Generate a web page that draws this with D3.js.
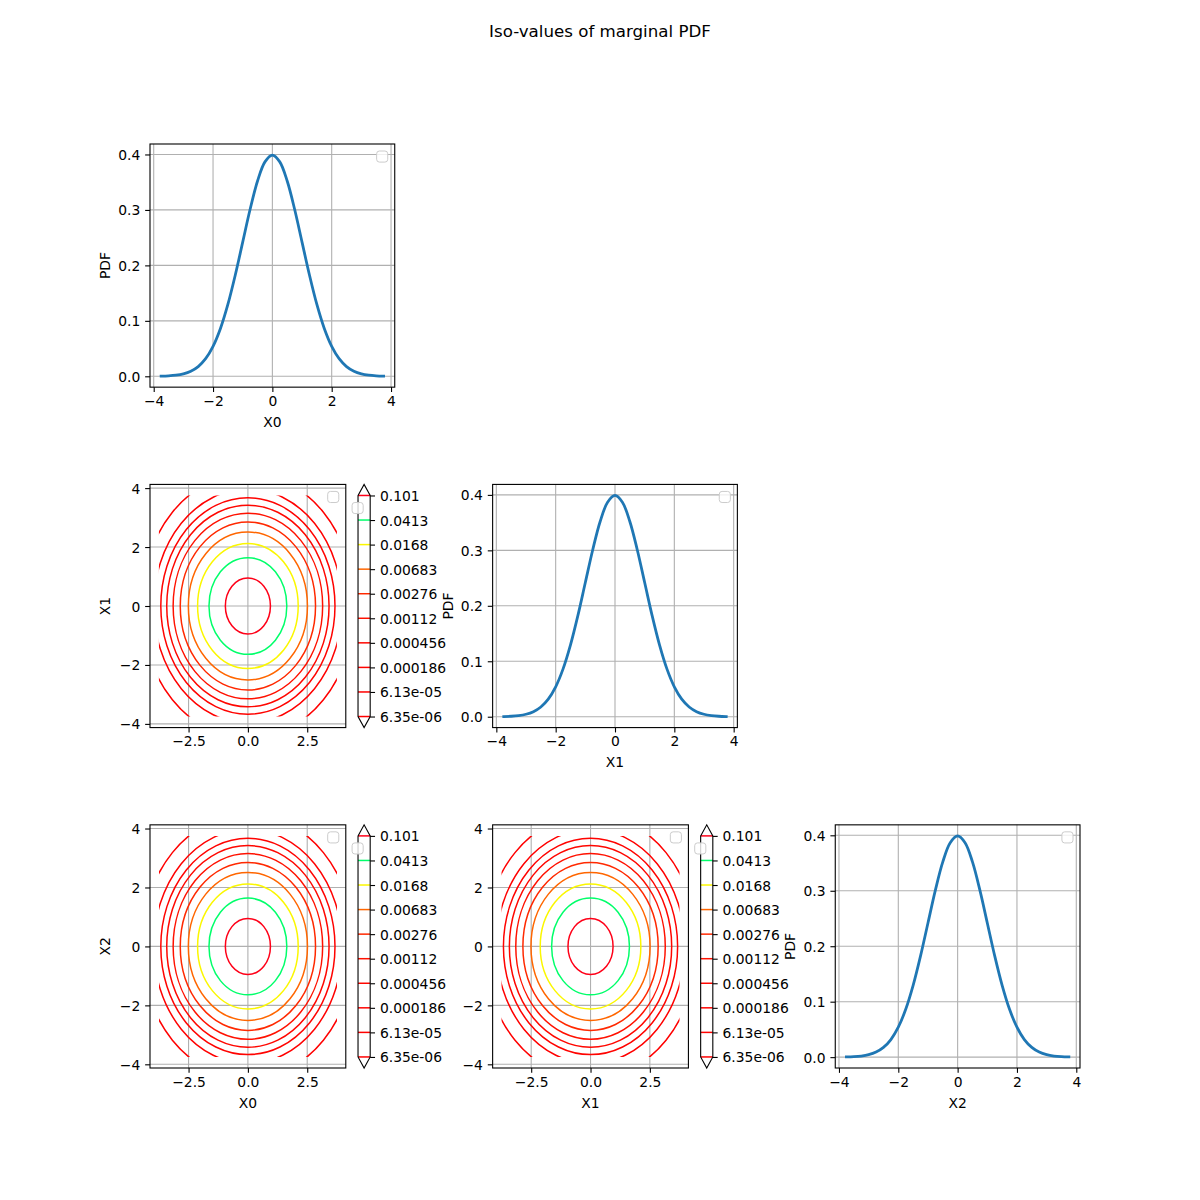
<!DOCTYPE html>
<html><head><meta charset="utf-8">
<script src="https://cdn.jsdelivr.net/npm/d3@7"></script>
<style>body{margin:0;background:#fff}svg{display:block}text{font-family:"DejaVu Sans",sans-serif}</style>
</head><body>
<svg id="chart" width="1200" height="1200"></svg>
<script>
// ---------------- data ----------------
const chartTitle = "Iso-values of marginal PDF";
const marginalNames = ["X0", "X1", "X2"];
const pdfLabel = "PDF";
// marginal PDF curve samples (same for each marginal)
const sampleX = [-3.75,-3.5,-3.25,-3,-2.75,-2.5,-2.25,-2,-1.75,-1.5,-1.25,-1,-0.75,-0.5,-0.25,0,
                 0.25,0.5,0.75,1,1.25,1.5,1.75,2,2.25,2.5,2.75,3,3.25,3.5,3.75];
const marginalPDF = [0.00035,0.00087,0.00203,0.00443,0.00909,0.01753,0.03174,0.05399,0.08628,0.12952,
                     0.18265,0.24197,0.30114,0.35207,0.38667,0.39894,0.38667,0.35207,0.30114,0.24197,
                     0.18265,0.12952,0.08628,0.05399,0.03174,0.01753,0.00909,0.00443,0.00203,0.00087,0.00035];
// iso-levels of the bivariate PDF and their radius in the (Xi, Xj) plane
const levels = [0.101, 0.0413, 0.0168, 0.00683, 0.00276, 0.00112, 0.000456, 0.000186, 6.13e-05, 6.35e-06];
const levelLabels = ["0.101","0.0413","0.0168","0.00683","0.00276","0.00112","0.000456","0.000186","6.13e-05","6.35e-06"];
const levelRadii = [0.95, 1.64, 2.12, 2.51, 2.85, 3.15, 3.42, 3.67, 3.97, 4.50];
const gridExtent = [-3.75, 3.75];
// tick values
const pdfXTicks = [-4, -2, 0, 2, 4];
const pdfYTicks = [0, 0.1, 0.2, 0.3, 0.4];
const contourXTicks = [-2.5, 0, 2.5];
const contourYTicks = [-4, -2, 0, 2, 4];

// ---------------- layout ----------------
const svg = d3.select("#chart");
const FS = 13.89;
const figLeft = 150, figTop = 144;
const axW = 930 / 3.8, axH = 924 / 3.8;
const pitchX = axW * 1.4, pitchY = axH * 1.4;
const blue = "#1f77b4", gridCol = "#b0b0b0";
const tickLen = 4.86, tickPad = 4.86;

// matplotlib "hsv" colormap
const hsvR = [[0,1],[0.158730,1],[0.174603,0.96875],[0.333333,0.03125],[0.349206,0],[0.666667,0],[0.682540,0],[0.841270,0.03125],[0.857143,0.96875],[1,1]];
const hsvG = [[0,0],[0.158730,0.9375],[0.174603,1],[0.507937,1],[0.666667,0.0625],[0.682540,0],[1,0]];
const hsvB = [[0,0],[0.333333,0],[0.349206,0.0625],[0.507937,1],[0.841270,1],[0.857143,0.9375],[1,0.09375]];
const seg = s => d3.scaleLinear().domain(s.map(d => d[0])).range(s.map(d => d[1])).clamp(true);
const sR = seg(hsvR), sG = seg(hsvG), sB = seg(hsvB);
const norm = d3.scaleLinear().domain(d3.extent(levels)).range([0, 1]);
const levelColor = v => { const t = norm(v); return d3.rgb(sR(t)*255, sG(t)*255, sB(t)*255).formatHex(); };

svg.append("text").attr("x", 600).attr("y", 37).attr("text-anchor", "middle")
  .attr("font-size", 16.67).text(chartTitle);

let clipId = 0;

function legendBox(g, rightX, topY) {
  g.append("rect").attr("x", rightX - 7 - 11.1).attr("y", topY + 7).attr("width", 11.1).attr("height", 11.1)
    .attr("rx", 2.8).attr("fill", "white").attr("fill-opacity", 0.8).attr("stroke", "#cccccc").attr("stroke-width", 1);
}

function styleAxis(sel) {
  sel.select(".domain").remove();
  sel.selectAll(".tick line").attr("stroke", "black").attr("stroke-width", 1.1);
  sel.selectAll(".tick text").attr("font-size", FS).attr("fill", "black").attr("font-family", "DejaVu Sans");
}

function frame(g, x, y, w, h, xs, ys, xTicks, yTicks, xFmt, yFmt, xLabel, yLabel) {
  g.append("g").selectAll("line").data(xTicks).join("line")
    .attr("x1", d => xs(d)).attr("x2", d => xs(d)).attr("y1", y).attr("y2", y + h)
    .attr("stroke", gridCol).attr("stroke-width", 1.1);
  g.append("g").selectAll("line").data(yTicks).join("line")
    .attr("y1", d => ys(d)).attr("y2", d => ys(d)).attr("x1", x).attr("x2", x + w)
    .attr("stroke", gridCol).attr("stroke-width", 1.1);
  const ax = g.append("g").attr("transform", `translate(0,${y + h})`)
    .call(d3.axisBottom(xs).tickValues(xTicks).tickFormat(xFmt).tickSize(tickLen).tickPadding(tickPad));
  styleAxis(ax);
  ax.selectAll(".tick text").attr("dy", null).attr("y", 18.5);
  const ay = g.append("g").attr("transform", `translate(${x},0)`)
    .call(d3.axisLeft(ys).tickValues(yTicks).tickFormat(yFmt).tickSize(tickLen).tickPadding(tickPad));
  styleAxis(ay);
  ay.selectAll(".tick text").attr("dy", null).attr("y", 0).attr("dominant-baseline", "central");
  if (xLabel) g.append("text").attr("x", x + w / 2).attr("y", y + h + 39.5).attr("text-anchor", "middle")
    .attr("font-size", FS).text(xLabel);
  if (yLabel) g.append("text").attr("transform", `translate(${x - 40},${y + h / 2}) rotate(-90)`)
    .attr("text-anchor", "middle").attr("font-size", FS).text(yLabel);
}

function spines(g, x, y, w, h) {
  g.append("rect").attr("x", x).attr("y", y).attr("width", w).attr("height", h)
    .attr("fill", "none").attr("stroke", "black").attr("stroke-width", 1.1);
}

function pdfPanel(row, col) {
  const x = figLeft + col * pitchX, y = figTop + row * pitchY, w = axW, h = axH;
  const g = svg.append("g");
  const xPad = (d3.max(sampleX) - d3.min(sampleX)) * 0.05;
  const yPad = (d3.max(marginalPDF) - d3.min(marginalPDF)) * 0.05;
  const xs = d3.scaleLinear().domain([d3.min(sampleX) - xPad, d3.max(sampleX) + xPad]).range([x, x + w]);
  const ys = d3.scaleLinear().domain([d3.min(marginalPDF) - yPad, d3.max(marginalPDF) + yPad]).range([y + h, y]);
  frame(g, x, y, w, h, xs, ys, pdfXTicks, pdfYTicks, d3.format("d"), d3.format(".1f"), marginalNames[row], pdfLabel);
  const line = d3.line().x((d, i) => xs(sampleX[i])).y(d => ys(d)).curve(d3.curveCatmullRom.alpha(0.5));
  g.append("path").attr("d", line(marginalPDF)).attr("fill", "none").attr("stroke", blue)
    .attr("stroke-width", 2.78).attr("stroke-linecap", "square");
  spines(g, x, y, w, h);
  legendBox(g, x + w, y);
}

function contourPanel(row, col) {
  const x = figLeft + col * pitchX, y = figTop + row * pitchY, w = axW * 0.8, h = axH;
  const g = svg.append("g");
  const pad = (gridExtent[1] - gridExtent[0]) * 0.05;
  const xs = d3.scaleLinear().domain([gridExtent[0] - pad, gridExtent[1] + pad]).range([x, x + w]);
  const ys = d3.scaleLinear().domain([gridExtent[0] - pad, gridExtent[1] + pad]).range([y + h, y]);
  frame(g, x, y, w, h, xs, ys, contourXTicks, contourYTicks, d3.format(".1f"), d3.format("d"),
        row === 2 ? marginalNames[col] : null, col === 0 ? marginalNames[row] : null);
  const id = "clip" + (clipId++);
  g.append("clipPath").attr("id", id).append("rect")
    .attr("x", xs(gridExtent[0])).attr("y", ys(gridExtent[1]))
    .attr("width", xs(gridExtent[1]) - xs(gridExtent[0])).attr("height", ys(gridExtent[0]) - ys(gridExtent[1]));
  g.append("g").attr("clip-path", `url(#${id})`).selectAll("ellipse").data(levels).join("ellipse")
    .attr("cx", xs(0)).attr("cy", ys(0))
    .attr("rx", (d, i) => xs(levelRadii[i]) - xs(0))
    .attr("ry", (d, i) => ys(0) - ys(levelRadii[i]))
    .attr("fill", "none").attr("stroke", d => levelColor(d)).attr("stroke-width", 1.5);
  spines(g, x, y, w, h);
  legendBox(g, x + w, y);

  // colorbar
  const cbx = x + axW * 0.85, cbw = axH / 20;
  const inner = axH / 1.1, ext = inner * 0.05;
  const iTop = y + ext, iBot = y + ext + inner;
  const cs = d3.scalePoint().domain(levelLabels).range([iTop, iBot]);
  const cg = svg.append("g");
  const outline = `M${cbx},${iTop}L${cbx + cbw / 2},${y}L${cbx + cbw},${iTop}L${cbx + cbw},${iBot}L${cbx + cbw / 2},${y + h}L${cbx},${iBot}Z`;
  cg.append("path").attr("d", outline).attr("fill", "white");
  cg.selectAll("line").data(levels).join("line")
    .attr("x1", cbx).attr("x2", cbx + cbw)
    .attr("y1", (d, i) => cs(levelLabels[i])).attr("y2", (d, i) => cs(levelLabels[i]))
    .attr("stroke", d => levelColor(d)).attr("stroke-width", 1.5);
  cg.append("path").attr("d", outline).attr("fill", "none").attr("stroke", "black").attr("stroke-width", 1.1);
  const ca = cg.append("g").attr("transform", `translate(${cbx + cbw},0)`)
    .call(d3.axisRight(cs).tickSize(tickLen).tickPadding(tickPad));
  styleAxis(ca);
  ca.selectAll(".tick text").attr("dy", null).attr("dominant-baseline", "central");
  legendBox(cg, cbx + cbw, iTop);
}

for (let row = 0; row < 3; row++) {
  for (let col = 0; col <= row; col++) {
    if (row === col) pdfPanel(row, col); else contourPanel(row, col);
  }
}
</script>
</body></html>
